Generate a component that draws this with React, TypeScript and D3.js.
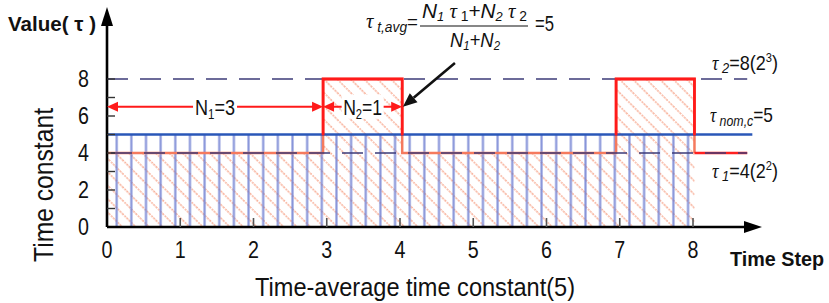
import React from "react";
import * as d3 from "d3";

// ---- data ----
const timeTicks = [0, 1, 2, 3, 4, 5, 6, 7, 8];
const yTickValues = [0, 1, 2, 3, 4, 5, 6, 7, 8];
const yTickLabels = [0, 2, 4, 6, 8];
const tau1 = 4;
const tau2 = 8;
const tauNom = 5;
const signalX = [0, 2.95, 2.95, 4.03, 4.03, 6.95, 6.95, 8.02, 8.02];
const signalY = [4, 4, 8, 8, 4, 4, 8, 8, 4];
const tailEnd = 8.74; // end of reference lines / tail
const nomEnd = 8.81;
const hatchEnd = 8;
const n1Span = [0, 2.95];
const n2Span = [2.95, 4.03];
const arrowLevel = 6.5;
const pointerFrom = [4.75, 8.86];
const pointerTo = [4.04, 6.5];

const W = 829;
const H = 303;
const SANS = "'Liberation Sans', Arial, sans-serif";
const SERIF = "'Liberation Serif', 'Times New Roman', serif";

export default function App() {
  const x = d3.scaleLinear().domain([0, 8]).range([107, 693]);
  const y = d3.scaleLinear().domain([0, 8]).range([227, 79]);

  const pts: [number, number][] = signalX.map((v, i) => [v, signalY[i]]);
  const line = d3
    .line<[number, number]>()
    .x((d) => x(d[0]))
    .y((d) => y(d[1]));
  const area = d3
    .area<[number, number]>()
    .x((d) => x(d[0]))
    .y0(y(0))
    .y1((d) => y(d[1]));

  const unitW = x(1) - x(0);
  const vSpacing = unitW / 5;

  const arrowHead = (tipX: number, tipY: number, dir: number, len = 11, half = 5) =>
    `M${tipX},${tipY}L${tipX - dir * len},${tipY - half}L${tipX - dir * len},${tipY + half}Z`;

  const ay = y(arrowLevel);

  const pf = [x(pointerFrom[0]), y(pointerFrom[1])];
  const pt = [x(pointerTo[0]), y(pointerTo[1])];
  const ang = Math.atan2(pt[1] - pf[1], pt[0] - pf[0]);
  const hl = 14, hw = 6;
  const bx = pt[0] - hl * Math.cos(ang);
  const by = pt[1] - hl * Math.sin(ang);
  const pointerHead = `M${pt[0]},${pt[1]}L${bx + hw * Math.sin(ang)},${by - hw * Math.cos(ang)}L${bx - hw * Math.sin(ang)},${by + hw * Math.cos(ang)}Z`;

  const tailPts: [number, number][] = [
    [signalX[signalX.length - 1], tau1],
    [tailEnd, tau1],
  ];

  const n1c = x((n1Span[0] + n1Span[1]) / 2);
  const n2c = x((n2Span[0] + n2Span[1]) / 2);

  return (
    <svg width={W} height={H} style={{ position: "absolute", left: 0, top: 0, background: "#fff" }}>
      <defs>
        <pattern id="diag" patternUnits="userSpaceOnUse" width={9.5} height={9.5} patternTransform="rotate(-45)">
          <line x1={2} y1={0} x2={2} y2={9.5} stroke="#f6a085" strokeWidth={1.3} strokeDasharray="2 1" />
        </pattern>
        <pattern id="vert" patternUnits="userSpaceOnUse" x={x(0) + 9.7 - vSpacing / 2} y={0} width={vSpacing} height={20}>
          <line x1={vSpacing / 2} y1={0} x2={vSpacing / 2} y2={20} stroke="#6a7bd0" strokeOpacity={0.8} strokeWidth={2.2} />
        </pattern>
        <clipPath id="above5">
          <rect x={0} y={0} width={W} height={y(tauNom) + 1} />
        </clipPath>
      </defs>

      {/* hatched areas */}
      <path d={area(pts) || ""} fill="url(#diag)" />
      <rect x={x(0)} y={y(tauNom)} width={x(hatchEnd) - x(0)} height={y(0) - y(tauNom)} fill="url(#vert)" />

      {/* signal (lower part salmon) */}
      <path d={line(pts) || ""} fill="none" stroke="#f57a5e" strokeWidth={2.5} />
      <path d={line(tailPts) || ""} fill="none" stroke="#ff2020" strokeWidth={2.5} />

      {/* reference dashed lines */}
      <line x1={x(0)} x2={x(tailEnd)} y1={y(tau2)} y2={y(tau2)} stroke="#3d3b78" strokeWidth={1.6} strokeDasharray="21 12" />
      <line x1={x(0)} x2={x(tailEnd)} y1={y(tau1)} y2={y(tau1)} stroke="#3d3b78" strokeWidth={1.6} strokeDasharray="21 12" strokeDashoffset={-4} />
      {/* nominal line */}
      <line x1={x(0)} x2={x(nomEnd)} y1={y(tauNom)} y2={y(tauNom)} stroke="#2a57b8" strokeWidth={2.5} />

      {/* signal upper part red */}
      <path d={line(pts) || ""} fill="none" stroke="#ff1a1a" strokeWidth={2.8} clipPath="url(#above5)" />

      {/* axes */}
      <line x1={x(0)} x2={755} y1={y(0)} y2={y(0)} stroke="#000" strokeWidth={2.6} />
      <path d={`M762,${y(0)}L744,${y(0) - 6}L744,${y(0) + 6}Z`} fill="#000" />
      <line x1={x(0)} x2={x(0)} y1={y(0)} y2={14} stroke="#000" strokeWidth={2.6} />
      <path d={`M${x(0)},7L${x(0) - 6},26L${x(0) + 6},26Z`} fill="#000" />

      {timeTicks.filter((t) => t > 0).map((t) => (
        <line key={"xt" + t} x1={x(t)} x2={x(t)} y1={y(0)} y2={y(0) - 9} stroke="#555" strokeWidth={1.6} />
      ))}
      {yTickValues.filter((t) => t > 0).map((t) => (
        <line key={"yt" + t} x1={x(0)} x2={x(0) + 8} y1={y(t)} y2={y(t)} stroke="#333" strokeWidth={1.4} />
      ))}

      {/* tick labels */}
      {timeTicks.map((t) => (
        <text key={"xl" + t} transform={`translate(${x(t)},258) scale(0.82,1)`} textAnchor="middle" fontFamily={SANS} fontSize={24} fill="#111">
          {t}
        </text>
      ))}
      {yTickLabels.map((t) => (
        <text key={"yl" + t} transform={`translate(89,${y(t) + 8}) scale(0.82,1)`} textAnchor="end" fontFamily={SANS} fontSize={24} fill="#111">
          {t}
        </text>
      ))}

      {/* axis titles */}
      <text x={8} y={31} fontFamily={SANS} fontWeight="bold" fontSize={21} textLength={88} lengthAdjust="spacingAndGlyphs" fill="#111">
        Value( τ )
      </text>
      <text transform={`translate(53,185) rotate(-90)`} x={-77} fontFamily={SANS} fontSize={28} textLength={154} lengthAdjust="spacingAndGlyphs" fill="#111">
        Time constant
      </text>
      <text x={255} y={296} fontFamily={SANS} fontSize={26} textLength={320} lengthAdjust="spacingAndGlyphs" fill="#111">
        Time-average time constant(5)
      </text>
      <text x={730} y={266} fontFamily={SANS} fontWeight="bold" fontSize={21} textLength={94} lengthAdjust="spacingAndGlyphs" fill="#111">
        Time Step
      </text>

      {/* N1 / N2 arrows */}
      <line x1={x(n1Span[0]) + 4} x2={x(n1Span[1]) - 4} y1={ay} y2={ay} stroke="#ff1a1a" strokeWidth={2} />
      <path d={arrowHead(x(n1Span[0]), ay, -1)} fill="#ff1a1a" />
      <path d={arrowHead(x(n1Span[1]), ay, 1)} fill="#ff1a1a" />
      <rect x={n1c - 22} y={ay - 12} width={44} height={24} fill="#fff" />
      <text x={n1c - 20} y={ay + 8} fontFamily={SANS} fontSize={22} textLength={40} lengthAdjust="spacingAndGlyphs" fill="#111">
        N<tspan fontSize={14} dy={4}>1</tspan><tspan dy={-4}>=3</tspan>
      </text>

      <line x1={x(n2Span[0]) + 4} x2={x(n2Span[1]) - 4} y1={ay} y2={ay} stroke="#ff1a1a" strokeWidth={2} />
      <path d={arrowHead(x(n2Span[0]), ay, -1)} fill="#ff1a1a" />
      <path d={arrowHead(x(n2Span[1]), ay, 1)} fill="#ff1a1a" />
      <rect x={n2c - 21} y={ay - 12} width={42} height={24} fill="#fff" />
      <text x={n2c - 19.5} y={ay + 8} fontFamily={SANS} fontSize={22} textLength={39} lengthAdjust="spacingAndGlyphs" fill="#111">
        N<tspan fontSize={14} dy={4}>2</tspan><tspan dy={-4}>=1</tspan>
      </text>

      {/* pointer arrow */}
      <line x1={pf[0]} y1={pf[1]} x2={bx} y2={by} stroke="#111" strokeWidth={2.6} />
      <path d={pointerHead} fill="#111" />

      {/* formula */}
      <text x={366} y={28} fontFamily={SANS} fontSize={19} textLength={52} lengthAdjust="spacingAndGlyphs" fill="#111">
        <tspan fontFamily={SERIF} fontStyle="italic" fontSize={21}>τ</tspan>
        <tspan fontStyle="italic" fontSize={14} dy={4}> t,avg</tspan>
        <tspan dy={-4}>=</tspan>
      </text>
      <text x={422} y={18} fontFamily={SANS} fontSize={21} textLength={105} lengthAdjust="spacingAndGlyphs" fill="#111">
        <tspan fontStyle="italic">N</tspan>
        <tspan fontStyle="italic" fontSize={13} dy={3}>1</tspan>
        <tspan dy={-3} fontFamily={SERIF} fontStyle="italic">{"  τ"}</tspan>
        <tspan fontSize={14} dy={3}> 1</tspan>
        <tspan dy={-3}>+</tspan>
        <tspan fontStyle="italic">N</tspan>
        <tspan fontStyle="italic" fontSize={13} dy={3}>2</tspan>
        <tspan dy={-3} fontFamily={SERIF} fontStyle="italic">{"  τ"}</tspan>
        <tspan fontSize={14} dy={3}> 2</tspan>
      </text>
      <line x1={420} x2={528} y1={26} y2={26} stroke="#111" strokeWidth={1.2} />
      <text x={450} y={47} fontFamily={SANS} fontSize={21} textLength={50} lengthAdjust="spacingAndGlyphs" fill="#111">
        <tspan fontStyle="italic">N</tspan>
        <tspan fontStyle="italic" fontSize={13} dy={3}>1</tspan>
        <tspan dy={-3}>+</tspan>
        <tspan fontStyle="italic">N</tspan>
        <tspan fontStyle="italic" fontSize={13} dy={3}>2</tspan>
      </text>
      <text x={535} y={31} fontFamily={SANS} fontSize={22} textLength={19} lengthAdjust="spacingAndGlyphs" fill="#111">=5</text>

      {/* right labels */}
      <text x={712} y={70} fontFamily={SANS} fontSize={21} textLength={66} lengthAdjust="spacingAndGlyphs" fill="#111">
        <tspan fontFamily={SERIF} fontStyle="italic">τ</tspan>
        <tspan fontStyle="italic" fontSize={15} dy={3}> 2</tspan>
        <tspan dy={-3}>=8(2</tspan>
        <tspan fontSize={13} dy={-8}>3</tspan>
        <tspan dy={8}>)</tspan>
      </text>
      <text x={710} y={122} fontFamily={SANS} fontSize={21} textLength={63} lengthAdjust="spacingAndGlyphs" fill="#111">
        <tspan fontFamily={SERIF} fontStyle="italic">τ</tspan>
        <tspan fontStyle="italic" fontSize={15} dy={4}> nom,c</tspan>
        <tspan dy={-4}>=5</tspan>
      </text>
      <text x={712} y={178} fontFamily={SANS} fontSize={21} textLength={66} lengthAdjust="spacingAndGlyphs" fill="#111">
        <tspan fontFamily={SERIF} fontStyle="italic">τ</tspan>
        <tspan fontStyle="italic" fontSize={15} dy={3}> 1</tspan>
        <tspan dy={-3}>=4(2</tspan>
        <tspan fontSize={13} dy={-8}>2</tspan>
        <tspan dy={8}>)</tspan>
      </text>
    </svg>
  );
}
